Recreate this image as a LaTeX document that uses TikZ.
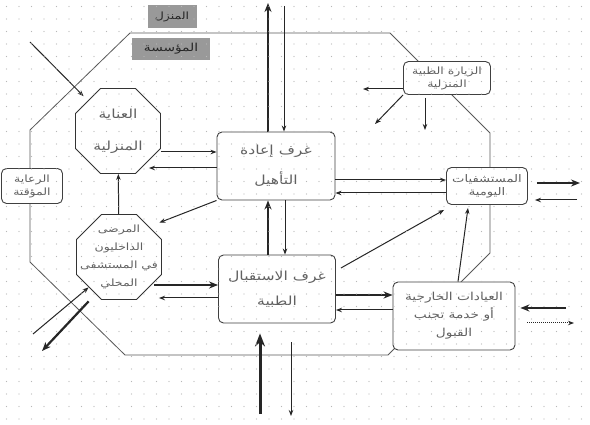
\documentclass[tikz,border=0pt]{standalone}
\usepackage{fontspec}
\usetikzlibrary{shapes.geometric,arrows.meta,calc}
\newfontfamily\arabicfont[Script=Arabic,FakeStretch=1.25]{DejaVu Sans}
\TeXXeTstate=1
\newcommand{\ar}[1]{\beginR #1\endR}
\newcommand{\fs}[2]{\arabicfont\fontsize{#1}{#2}\selectfont}
\begin{document}
\begin{tikzpicture}[x=1pt,y=-1pt,
  box/.style={draw=black!75, line width=0.9pt, rounded corners=5pt, fill=white, align=center, text=black!62, inner sep=0pt},
  oct/.style={regular polygon, regular polygon sides=8, draw=black!80, line width=0.9pt, fill=white, minimum size=92pt, inner sep=0pt},
  octtext/.style={align=center, text=black!62, inner sep=0pt},
  arr/.style={draw=black!85, line width=1pt, -{Stealth[length=6pt,width=4.5pt]}},
  thk/.style={draw=black!85, line width=2.2pt, -{Stealth[length=9pt,width=7pt]}},
  lbl/.style={fill=black!40, text=black!85, inner sep=0pt},
  frame/.style={draw=black!65, line width=0.8pt}
]
\useasboundingbox (0,0) rectangle (590,425);
\fill[white] (0,0) rectangle (590,425);

\draw[frame] (130,33) -- (390,33) -- (490,133) -- (490,253) -- (388,355) -- (125,355) -- (30,262) -- (30,130) -- cycle;

\node[lbl, minimum width=49pt, minimum height=23pt, font=\fs{10}{12}] (home) at (172,17) {\ar{المنزل}};
\node[lbl, minimum width=78pt, minimum height=22pt, font=\fs{11}{12}] (inst) at (171,49) {\ar{المؤسسة}};

\node[oct] (H) at (118,131) {};
\node[octtext, font=\fs{12.5}{32}] (Ht) at (H) {\ar{العناية}\\\ar{المنزلية}};
\node[box, minimum width=61pt, minimum height=35pt, font=\fs{10}{13}] (T) at (32,186) {\ar{الرعاية}\\\ar{المؤقتة}};
\node[oct] (P) at (119,257) {};
\node[octtext, font=\fs{10}{18}] (Pt) at (P) {\ar{المرضى}\\\ar{الداخليون}\\\ar{في المستشفى}\\\ar{المحلي}};
\node[box, minimum width=118pt, minimum height=68pt, font=\fs{12.5}{30}] (R) at (276,166) {\ar{غرف إعادة}\\\ar{التأهيل}};
\node[box, minimum width=117pt, minimum height=68pt, font=\fs{12.5}{25}] (A) at (277,289) {\ar{غرف الاستقبال}\\\ar{الطبية}};
\node[box, minimum width=87pt, minimum height=33pt, font=\fs{10}{13}] (V) at (447,78) {\ar{الزيارة الطبية}\\\ar{المنزلية}};
\node[box, minimum width=81pt, minimum height=37pt, font=\fs{10.5}{13}] (D) at (487,186) {\ar{المستشفيات}\\\ar{اليومية}};
\node[box, minimum width=122pt, minimum height=68pt, font=\fs{11}{18}] (O) at (454,316) {\ar{العيادات الخارجية}\\\ar{أو خدمة تجنب}\\\ar{القبول}};

\coordinate (t1) at (268,3);
\coordinate (t2) at (284,6);
\coordinate (b1) at (260,414);
\coordinate (b2) at (291,416);
\coordinate (ht) at (30,42);
\coordinate (pl1) at (33,334);
\coordinate (pl2) at (42,351);
\coordinate (vc1) at (363,89);
\coordinate (vc2) at (425,130);
\coordinate (vc3) at (375,124);
\coordinate (dc1) at (580,183);
\coordinate (dc2) at (577,200);
\coordinate (oc1) at (566,308);
\coordinate (oc2) at (574,323);

\draw[thk] ($(R.north)+(-8,0)$) -- (t1);
\draw[arr] (t2) -- ($(R.north)+(8,0)$);
\draw[thk] ($(A.north)+(-9,0)$) -- ($(R.south)+(-8,0)$);
\draw[arr] ($(R.south)+(9,0)$) -- ($(A.north)+(8,0)$);
\draw[thk, line width=3pt, -{Stealth[length=13pt,width=10pt]}] (b1) -- ($(A.south)+(-17,10)$);
\draw[arr] ($(A.south)+(14,19)$) -- (b2);
\draw[arr, shorten >=6pt] (ht) -- (H);
\draw[arr] ($(H.east)+(0,21)$) -- ($(R.west)+(0,-14)$);
\draw[arr] ($(R.west)+(0,2)$) -- ($(H.east)+(-12,37)$);
\draw[arr] (P) -- (H);
\draw[arr] (R.south west) -- ($(P.north east)+(10,-4)$);
\draw[thk] ($(P.east)+(-8,28)$) -- ($(A.west)+(0,-4)$);
\draw[arr] ($(A.west)+(0,9)$) -- ($(P.east)+(-3,41)$);
\draw[arr] (pl1) -- (P.south west);
\draw[thk] ($(P.south west)+(0,14)$) -- (pl2);
\draw[arr] ($(R.east)+(0,14)$) -- ($(D.west)+(0,-6)$);
\draw[arr] ($(D.west)+(0,7)$) -- ($(R.east)+(0,27)$);
\draw[arr] ($(A.east)+(5,-21)$) -- ($(D.south west)+(-2,5)$);
\draw[arr] ($(O.north)+(4,0)$) -- ($(D.south)+(-19,3)$);
\draw[thk] ($(A.east)+(0,6)$) -- ($(O.west)+(0,-21)$);
\draw[arr] ($(O.west)+(0,-6)$) -- ($(A.east)+(0,21)$);
\draw[thk] (oc1) -- ($(O.east)+(5,-8)$);
\draw[arr, densely dotted] ($(O.east)+(12,7)$) -- (oc2);
\draw[thk] ($(D.east)+(9,-3)$) -- (dc1);
\draw[arr] (dc2) -- ($(D.east)+(7,14)$);
\draw[arr] ($(V.west)+(0,11)$) -- (vc1);
\draw[arr] ($(V.south)+(-22,3)$) -- (vc2);
\draw[arr] (V.south west) -- (vc3);

\foreach \i in {0,...,47} \foreach \j in {0,...,33}
  \fill[black!28] (6.5+12.5*\i, 6.5+12.5*\j) circle (0.6pt);
\end{tikzpicture}
\end{document}
